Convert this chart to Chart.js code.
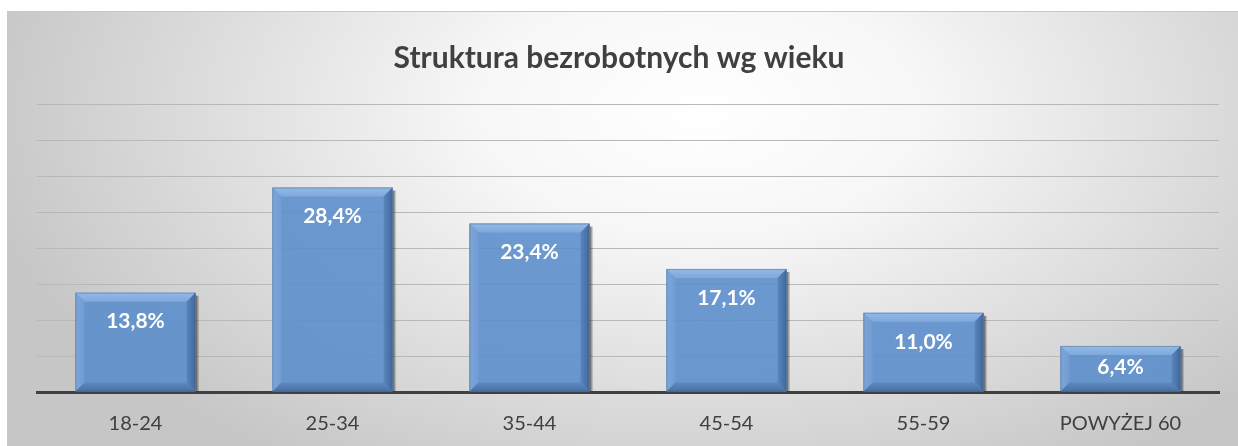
<!DOCTYPE html>
<html>
<head>
<meta charset="utf-8">
<script src="https://cdn.jsdelivr.net/npm/chart.js@4/dist/chart.umd.min.js"></script>
<style>
html,body{margin:0;padding:0;background:#fff;}
#wrap{width:1238px;height:446px;position:relative;}
</style>
</head>
<body>
<div id="wrap"><canvas id="c" width="1238" height="446"></canvas></div>
<script>
const categories = ["18-24", "25-34", "35-44", "45-54", "55-59", "POWYŻEJ 60"];
const values = [13.8, 28.4, 23.4, 17.1, 11.0, 6.4];
const yTicks = [0, 5, 10, 15, 20, 25, 30, 35, 40];
const titleText = "Struktura bezrobotnych wg wieku";
const FONT = "Lato, 'Open Sans', 'Noto Sans', sans-serif";

const bgPlugin = {
  id: 'bg',
  beforeDraw(chart) {
    const ctx = chart.ctx;
    const W = chart.width, H = chart.height;
    ctx.save();
    ctx.fillStyle = '#ffffff';
    ctx.fillRect(0, 0, W, H);
    const fx = 7, fy = 11, fw = W - 7 + 2, fh = H - 11 + 2;
    ctx.save();
    ctx.beginPath();
    ctx.rect(fx, fy, fw, fh);
    ctx.clip();
    const cx = 700, cy = 110, sx = 1.75;
    ctx.translate(cx, cy);
    ctx.scale(sx, 1);
    const g = ctx.createRadialGradient(0, 0, 0, 0, 0, 420);
    g.addColorStop(0, '#ffffff');
    g.addColorStop(0.3, '#f7f7f7');
    g.addColorStop(1, '#c6c6c6');
    ctx.fillStyle = g;
    ctx.fillRect(-2000, -2000, 4000, 4000);
    ctx.restore();
    ctx.strokeStyle = '#c8c8c8';
    ctx.lineWidth = 1;
    ctx.strokeRect(fx + 0.5, fy + 0.5, fw, fh);
    ctx.restore();
  }
};

function poly(ctx, pts, fill) {
  ctx.fillStyle = fill;
  ctx.beginPath();
  ctx.moveTo(pts[0][0], pts[0][1]);
  for (let k = 1; k < pts.length; k++) ctx.lineTo(pts[k][0], pts[k][1]);
  ctx.closePath();
  ctx.fill();
}

const bevelPlugin = {
  id: 'bevel',
  beforeDatasetsDraw(chart) {
    const ctx = chart.ctx;
    const meta = chart.getDatasetMeta(0);
    meta.data.forEach((el) => {
      const p = el.getProps(['x', 'y', 'base', 'width'], true);
      const r = p.x + p.width / 2, t = p.y, b = p.base;
      const g = ctx.createLinearGradient(r, 0, r + 4, 0);
      g.addColorStop(0, 'rgba(40,40,40,0.75)');
      g.addColorStop(1, 'rgba(40,40,40,0)');
      ctx.fillStyle = g;
      ctx.fillRect(r, t + 3, 4, b - t - 3);
    });
  },
  afterDatasetsDraw(chart) {
    const ctx = chart.ctx;
    const meta = chart.getDatasetMeta(0);
    const ds = chart.data.datasets[0];
    meta.data.forEach((el, i) => {
      const p = el.getProps(['x', 'y', 'base', 'width'], true);
      const l = p.x - p.width / 2, r = p.x + p.width / 2, t = p.y, b = p.base;
      const bv = Math.min(9, (b - t) / 3);
      ctx.save();
      let g = ctx.createLinearGradient(0, t, 0, t + bv);
      g.addColorStop(0, 'rgba(150,188,232,0.95)');
      g.addColorStop(1, 'rgba(128,171,222,0.9)');
      poly(ctx, [[l, t], [r, t], [r - bv, t + bv], [l + bv, t + bv]], g);
      g = ctx.createLinearGradient(l, 0, l + bv, 0);
      g.addColorStop(0, 'rgba(128,168,218,0.9)');
      g.addColorStop(1, 'rgba(114,158,212,0.85)');
      poly(ctx, [[l, t], [l + bv, t + bv], [l + bv, b - bv], [l, b]], g);
      g = ctx.createLinearGradient(r - bv, 0, r, 0);
      g.addColorStop(0, 'rgba(88,132,188,0.9)');
      g.addColorStop(1, 'rgba(62,100,150,0.95)');
      poly(ctx, [[r, t], [r - bv, t + bv], [r - bv, b - bv], [r, b]], g);
      g = ctx.createLinearGradient(0, b - bv, 0, b);
      g.addColorStop(0, 'rgba(92,136,192,0.9)');
      g.addColorStop(1, 'rgba(70,110,162,0.95)');
      poly(ctx, [[l, b], [l + bv, b - bv], [r - bv, b - bv], [r, b]], g);
      ctx.strokeStyle = 'rgba(70,100,140,0.45)';
      ctx.lineWidth = 1;
      ctx.strokeRect(l + 0.5, t + 0.5, p.width - 1, b - t - 1);
      const v = ds.data[i];
      const txt = v.toFixed(1).replace('.', ',') + '%';
      ctx.fillStyle = '#ffffff';
      ctx.font = "bold 21px " + FONT;
      ctx.textAlign = 'center';
      ctx.textBaseline = 'middle';
      const off = Math.min(29, (b - t) / 2 - 1);
      ctx.fillText(txt, p.x, t + off);
      ctx.restore();
    });
  }
};

new Chart(document.getElementById('c'), {
  type: 'bar',
  data: {
    labels: categories,
    datasets: [{
      data: values,
      backgroundColor: 'rgba(89,140,203,0.88)',
      borderWidth: 0,
      barPercentage: 0.61,
      categoryPercentage: 1.0
    }]
  },
  options: {
    responsive: false,
    animation: false,
    devicePixelRatio: 1,
    layout: { padding: { left: 7, right: 7, top: 0, bottom: -10 } },
    plugins: {
      legend: { display: false },
      tooltip: { enabled: false },
      title: {
        display: true,
        text: titleText,
        color: '#404040',
        font: { family: FONT, size: 30, weight: 'bold', lineHeight: 1.2 },
        padding: { top: 40, bottom: 28 }
      }
    },
    scales: {
      x: {
        grid: { display: false, drawTicks: false },
        border: { display: true, color: '#404040', width: 3 },
        ticks: { color: '#404040', font: { family: FONT, size: 20 }, padding: 20 }
      },
      y: {
        min: 0, max: 40,
        afterBuildTicks(scale) { scale.ticks = yTicks.map(v => ({ value: v })); },
        afterFit(scale) { scale.width = 30; },
        grid: { color: (c) => c.tick && c.tick.value === 0 ? 'rgba(0,0,0,0)' : '#b8b8b8', lineWidth: 1, drawTicks: false },
        border: { display: false },
        ticks: { display: false }
      },
      yr: {
        position: 'right',
        min: 0, max: 40,
        afterFit(scale) { scale.width = 12; },
        grid: { display: false, drawTicks: false },
        border: { display: false },
        ticks: { display: false }
      }
    }
  },
  plugins: [bgPlugin, bevelPlugin]
});
</script>
</body>
</html>
